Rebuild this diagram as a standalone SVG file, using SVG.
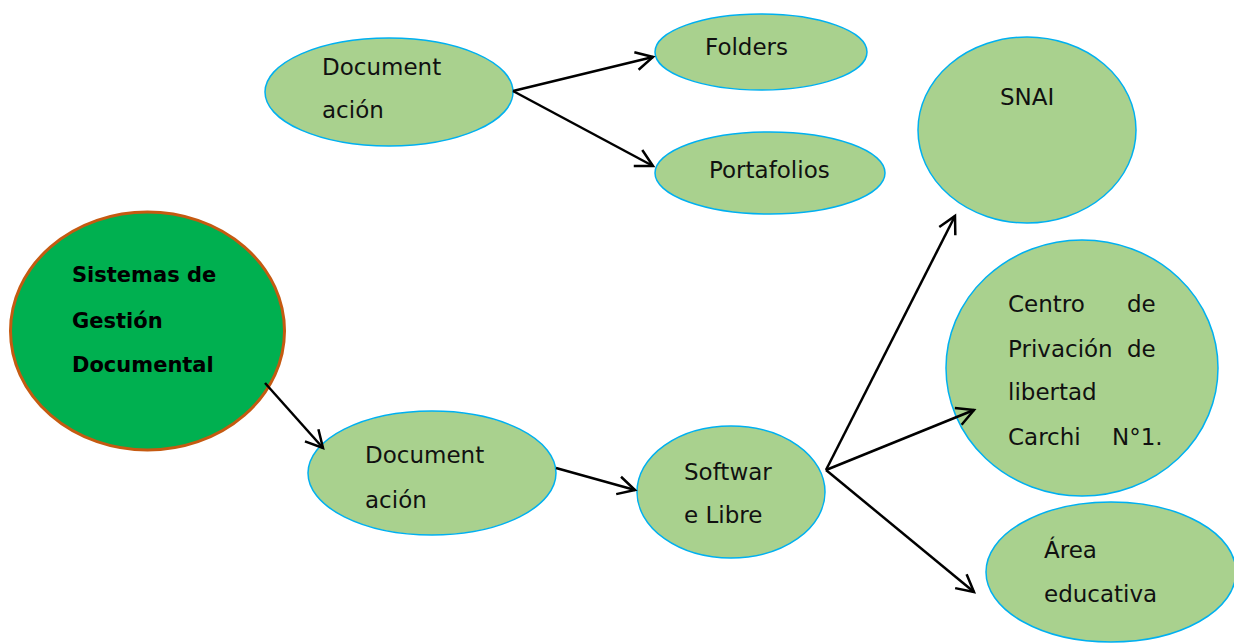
<svg xmlns="http://www.w3.org/2000/svg" width="1234" height="643" viewBox="0 0 1234 643">
  <style>
    .node { fill: #a9d18e; stroke: #00b0f0; stroke-width: 1.5; }
    .root { fill: #00b050; stroke: #c55a11; stroke-width: 3; }
    .label { font-family: "DejaVu Sans", "Liberation Sans", sans-serif; font-size: 23px; fill: #111; }
    .bold { font-weight: bold; font-size: 21px; fill: #000; }
    .edge { stroke: #000; stroke-width: 2.5; fill: none; marker-end: url(#open-arrow); }
  </style>
  <defs>
    <marker id="open-arrow" markerUnits="userSpaceOnUse" markerWidth="24" markerHeight="24" viewBox="0 0 24 24" refX="20" refY="12" orient="auto">
      <path d="M3,3 L20,12 L3,21" fill="none" stroke="#000" stroke-width="2.5"/>
    </marker>
  </defs>
  <rect width="1234" height="643" fill="#fff"/>

  <g id="node-sgd">
    <ellipse class="root" cx="147.5" cy="331" rx="137" ry="119"/>
    <text class="label bold" x="72" y="282">Sistemas de</text>
    <text class="label bold" x="72" y="328">Gestión</text>
    <text class="label bold" x="72" y="372">Documental</text>
  </g>

  <g id="node-doc-top">
    <ellipse class="node" cx="389" cy="92" rx="124" ry="54"/>
    <text class="label" x="322" y="75">Document</text>
    <text class="label" x="322" y="118">ación</text>
  </g>

  <g id="node-folders">
    <ellipse class="node" cx="761" cy="52" rx="106" ry="38"/>
    <text class="label" x="705" y="55">Folders</text>
  </g>

  <g id="node-portafolios">
    <ellipse class="node" cx="770" cy="173" rx="115" ry="41"/>
    <text class="label" x="709" y="178">Portafolios</text>
  </g>

  <g id="node-doc-bottom">
    <ellipse class="node" cx="432" cy="473" rx="124" ry="62"/>
    <text class="label" x="365" y="463">Document</text>
    <text class="label" x="365" y="508">ación</text>
  </g>

  <g id="node-software">
    <ellipse class="node" cx="731" cy="492" rx="94" ry="66"/>
    <text class="label" x="684" y="480">Softwar</text>
    <text class="label" x="684" y="523">e Libre</text>
  </g>

  <g id="node-snai">
    <ellipse class="node" cx="1027" cy="130" rx="109" ry="93"/>
    <text class="label" x="1000" y="105">SNAI</text>
  </g>

  <g id="node-centro">
    <ellipse class="node" cx="1082" cy="368" rx="136" ry="128"/>
    <text class="label" x="1008" y="312">Centro</text>
    <text class="label" x="1127" y="312">de</text>
    <text class="label" x="1008" y="357">Privación</text>
    <text class="label" x="1127" y="357">de</text>
    <text class="label" x="1008" y="400">libertad</text>
    <text class="label" x="1008" y="445">Carchi</text>
    <text class="label" x="1112" y="445">N°1.</text>
  </g>

  <g id="node-area">
    <ellipse class="node" cx="1111" cy="572" rx="125" ry="70"/>
    <text class="label" x="1044" y="558">Área</text>
    <text class="label" x="1044" y="602">educativa</text>
  </g>

  <!-- connectors drawn last so they sit on top of the shapes -->
  <g id="edges">
    <line class="edge" x1="265" y1="383" x2="323" y2="448"/>
    <line class="edge" x1="513" y1="91" x2="653" y2="57"/>
    <line class="edge" x1="513" y1="91" x2="653" y2="166"/>
    <line class="edge" x1="556" y1="468" x2="635" y2="490"/>
    <line class="edge" x1="826" y1="470" x2="955" y2="216"/>
    <line class="edge" x1="826" y1="470" x2="974" y2="410"/>
    <line class="edge" x1="826" y1="470" x2="974" y2="592"/>
  </g>
</svg>
